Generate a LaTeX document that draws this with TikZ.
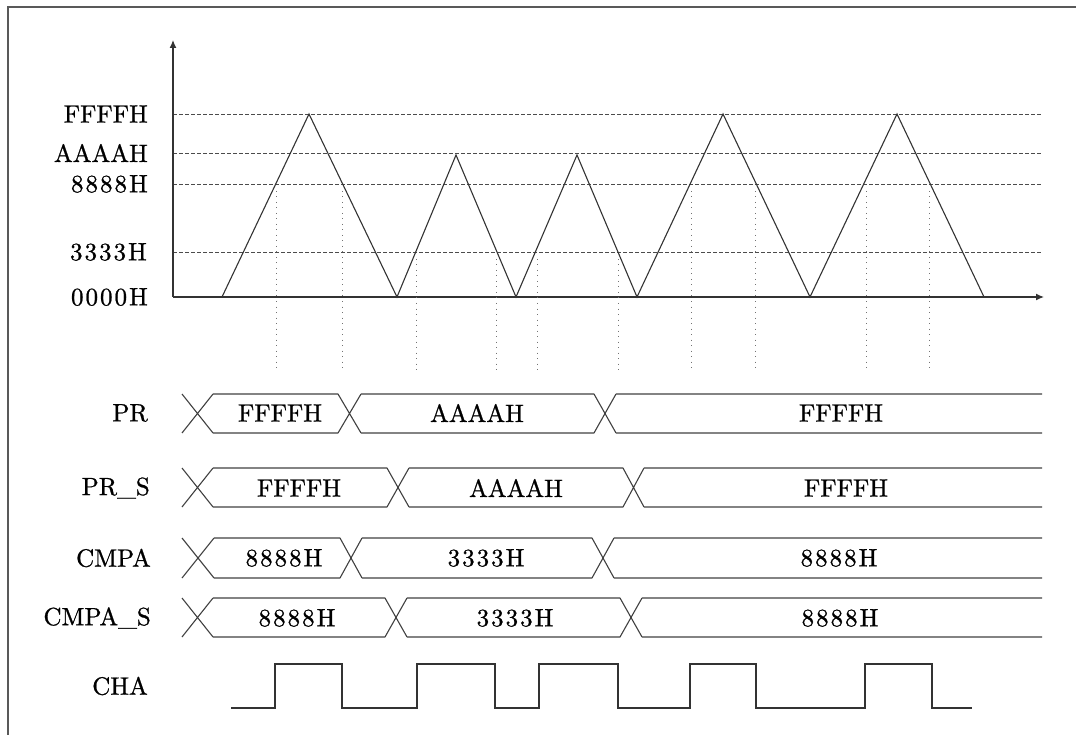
\documentclass[tikz,border=0pt]{standalone}
\usepackage{fontspec}
\usetikzlibrary{arrows.meta}
\newfontfamily\labfont{lmroman10-regular.otf}[FakeBold=0.9]
\newfontfamily\labdfont{lmroman10-regular.otf}[FakeBold=0.9,LetterSpace=8]
\newcommand{\mybus}[8]{%
  \draw[busline] (#3,#1) -- (#4,#2) (#3,#2) -- (#4,#1)
    (#5,#1) -- (#6,#2) (#5,#2) -- (#6,#1)
    (#7,#1) -- (#8,#2) (#7,#2) -- (#8,#1)
    (#4,#1) -- (#5,#1) (#4,#2) -- (#5,#2)
    (#6,#1) -- (#7,#1) (#6,#2) -- (#7,#2)
    (#8,#1) -- (1042,#1) (#8,#2) -- (1042,#2);}
\begin{document}
\begin{tikzpicture}[x=1pt,y=-1pt,
  lab/.style={font=\labfont\fontsize{25}{30}\selectfont, inner sep=0pt},
  labd/.style={font=\labdfont\fontsize{25}{30}\selectfont, inner sep=0pt},
  lvl/.style={lab, anchor=east},
  lvld/.style={labd, anchor=east},
  val/.style={lab, anchor=center},
  vald/.style={labd, anchor=center},
  wave/.style={line width=1.1pt, draw=black!80, line join=miter},
  busline/.style={line width=1.1pt, draw=black!75},
  level/.style={line width=0.9pt, draw=black!70, dash pattern=on 4pt off 2pt},
  guide/.style={line width=0.9pt, draw=black!55, dash pattern=on 1pt off 4.5pt},
  axis/.style={line width=1.2pt, draw=black!80, -{Latex[length=8pt,width=7pt]}},
  frame/.style={line width=1.6pt, draw=black!65}]
\useasboundingbox (0,0) rectangle (1076,735);
\draw[frame] (8,740) -- (8,7) -- (1080,7);

% axes
\coordinate (O) at (173,297);
\coordinate (Ytop) at (173,40);
\coordinate (Xend) at (1044,297);

% level lines
\foreach \yy in {114,153,184,252} \draw[level] (173,\yy) -- (1042,\yy);
\draw[axis] (O) -- (Ytop);
\draw[axis] (O) -- (Xend);

% level labels
\node[lvl] (lF) at (148,114) {FFFFH};
\node[lvl] (lA) at (148,153) {AAAAH};
\node[lvld] (l8) at (148,184) {8888H};
\node[lvld] (l3) at (147,252) {3333H};
\node[lvld] (l0) at (148,297) {0000H};

% triangle counter
\draw[wave] (222,297) -- (309,114) -- (397,297) -- (456,155) -- (516,297)
  -- (577,155) -- (637,297) -- (723,114) -- (810,297) -- (897,114) -- (984,297);

% compare guides
\foreach \xx/\yy in {276/184,342/184,416/252,496/252,537/252,618/252,691/184,755/184,866/184,929/184}
  \draw[guide] (\xx,\yy+7) -- (\xx,370);

% row labels
\node[lvl] (rPR) at (148,413) {PR};
\node[lvl] (rPRS) at (150,488) {PR\_S};
\node[lvl] (rCM) at (151,558) {CMPA};
\node[lvl] (rCMS) at (151,618) {CMPA\_S};
\node[lvl] (rCHA) at (148,686) {CHA};

% buses
\mybus{394}{433}{182}{213}{338}{361}{594}{616}
\mybus{468}{507}{182}{213}{387}{409}{623}{644}
\mybus{538}{578}{182}{214}{340}{362}{592}{614}
\mybus{598}{637}{182}{213}{385}{407}{620}{642}

% bus values
\node[val] (v11) at (280,413) {FFFFH};
\node[val] (v12) at (477,413) {AAAAH};
\node[val] (v13) at (841,413) {FFFFH};
\node[val] (v21) at (299,488) {FFFFH};
\node[val] (v22) at (516,488) {AAAAH};
\node[val] (v23) at (846,488) {FFFFH};
\node[vald] (v31) at (284,558) {8888H};
\node[vald] (v32) at (486,558) {3333H};
\node[vald] (v33) at (839,558) {8888H};
\node[vald] (v41) at (297,618) {8888H};
\node[vald] (v42) at (515,618) {3333H};
\node[vald] (v43) at (840,618) {8888H};

% CHA output
\draw[wave] (231,708) -- (275,708) -- (275,664) -- (342,664) -- (342,708)
  -- (417,708) -- (417,664) -- (495,664) -- (495,708)
  -- (539,708) -- (539,664) -- (618,664) -- (618,708)
  -- (690,708) -- (690,664) -- (756,664) -- (756,708)
  -- (865,708) -- (865,664) -- (932,664) -- (932,708) -- (972,708);
\end{tikzpicture}
\end{document}
